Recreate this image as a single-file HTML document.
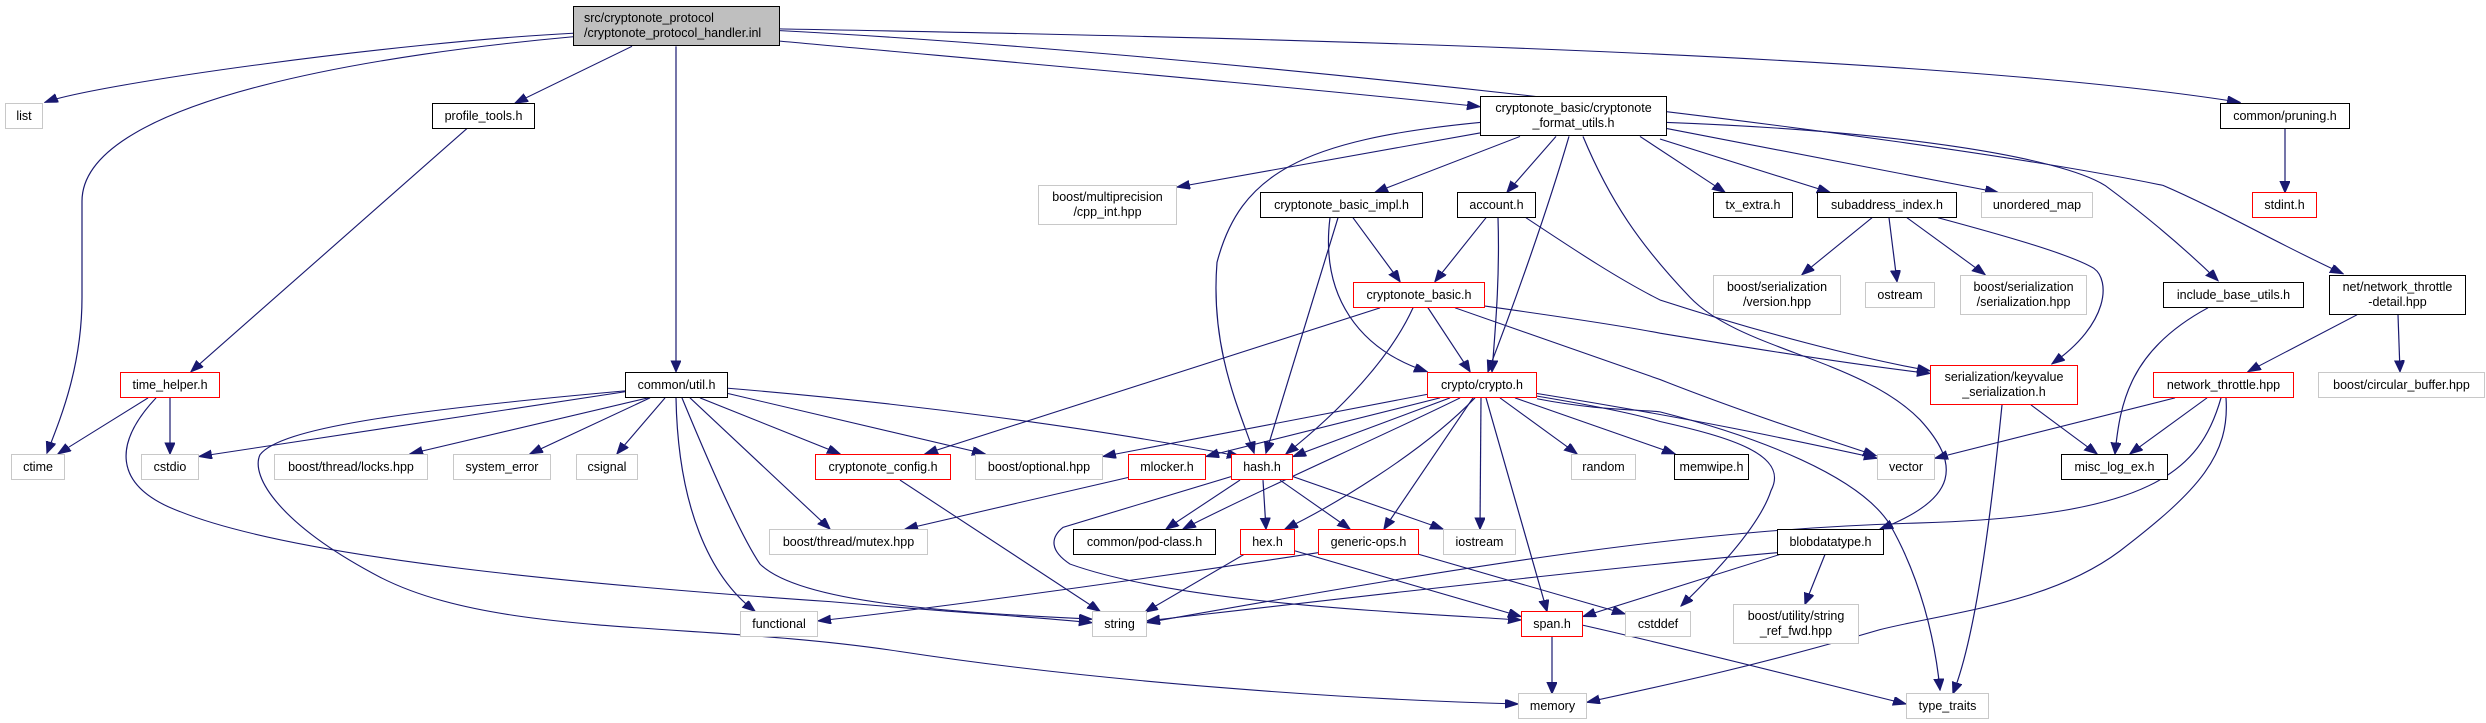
<!DOCTYPE html>
<html><head><meta charset="utf-8"><style>
body{margin:0;width:2486px;height:723px;background:#fff;position:relative;overflow:hidden;font-family:"Liberation Sans",sans-serif}
.n{position:absolute;box-sizing:border-box;background:#fff;display:flex;align-items:center;justify-content:center;text-align:center;font-size:12.5px;line-height:15px;color:#000;white-space:nowrap}
.g{border:1.5px solid #c8c8c8}
.b{border:1.5px solid #000}
.r{border:1.5px solid #ff0000}
svg{position:absolute;left:0;top:0}
path{fill:none;stroke:#191970;stroke-width:1.2}
</style></head><body>
<svg width="2486" height="723">
<defs><marker id="a" markerUnits="userSpaceOnUse" markerWidth="14" markerHeight="12" refX="13" refY="5" orient="auto"><path d="M0,0 L13,5 L0,10 Z" style="fill:#191970;stroke:#191970"/></marker></defs>
<g transform="scale(1,0.8745)" marker-end="url(#a)">
<path d="M573,38 C400,48 100,95 45,117"/>
<path d="M573,42 C400,60 82,110 82,230 L82,340 C82,420 60,480 47,518"/>
<path d="M632,53 L515,118"/>
<path d="M676,53 L676,425"/>
<path d="M780,47 C1000,70 1300,100 1480,122"/>
<path d="M780,33 C1100,40 1900,55 2240,117"/>
<path d="M780,35 C1200,60 1900,150 2163,212 C2220,240 2280,280 2343,313"/>
<path d="M1480,152 L1177,214"/>
<path d="M1480,140 C1300,160 1240,200 1217,300 C1210,400 1240,470 1254,518"/>
<path d="M1520,156 L1375,220"/>
<path d="M1556,156 L1507,220"/>
<path d="M1569,156 C1545,250 1510,360 1488,425"/>
<path d="M1583,156 C1610,230 1640,280 1690,340 C1740,400 1860,410 1920,480 C1960,530 1960,570 1880,605"/>
<path d="M1640,156 L1725,220"/>
<path d="M1660,159 L1830,220"/>
<path d="M1667,147 L1998,220"/>
<path d="M1667,140 C1900,150 2060,180 2105,212 C2150,250 2190,290 2218,321"/>
<path d="M1526,249 C1580,290 1620,320 1660,343 C1760,380 1860,410 1930,424"/>
<path d="M1485,350 C1560,362 1620,372 1660,381 C1760,400 1860,418 1930,427"/>
<path d="M1455,352 C1550,390 1620,418 1660,434 C1740,470 1820,500 1876,521"/>
<path d="M1938,249 C1990,265 2070,290 2094,307 C2110,320 2110,370 2052,416"/>
<path d="M1353,249 L1400,322"/>
<path d="M1338,249 L1266,518"/>
<path d="M1330,249 C1320,340 1360,400 1427,425"/>
<path d="M1486,249 L1435,322"/>
<path d="M1498,249 C1500,320 1495,380 1492,425"/>
<path d="M1380,352 L925,519"/>
<path d="M1413,352 C1390,410 1340,470 1286,519"/>
<path d="M1428,352 L1470,425"/>
<path d="M1427,451 L1103,522"/>
<path d="M1440,455 L1206,522"/>
<path d="M1450,455 L1293,522"/>
<path d="M1460,455 C1380,500 1260,560 1183,605"/>
<path d="M1475,455 C1420,520 1330,580 1285,605"/>
<path d="M1473,455 L1384,605"/>
<path d="M1481,455 L1480,605"/>
<path d="M1486,455 L1547,699"/>
<path d="M1500,455 L1577,519"/>
<path d="M1515,455 L1675,519"/>
<path d="M1537,450 C1700,480 1800,505 1877,524"/>
<path d="M1537,453 C1600,465 1640,475 1660,482 C1730,500 1790,520 1771,561 C1760,600 1720,650 1681,693"/>
<path d="M1537,456 C1600,470 1640,468 1660,471 C1760,500 1860,545 1890,600 C1920,660 1935,730 1940,789"/>
<path d="M1240,549 L1166,605"/>
<path d="M1263,549 L1266,605"/>
<path d="M1280,549 L1350,605"/>
<path d="M1293,545 L1443,605"/>
<path d="M1231,545 L1063,603 C1050,615 1050,630 1070,645 C1180,690 1400,700 1521,709"/>
<path d="M1128,546 L905,605"/>
<path d="M1244,634 L1145,700"/>
<path d="M1295,630 L1521,705"/>
<path d="M1318,632 C1100,670 900,700 818,710"/>
<path d="M1419,634 L1625,702"/>
<path d="M1552,728 L1552,793"/>
<path d="M1583,715 C1680,740 1800,775 1906,805"/>
<path d="M1777,632 C1600,650 1300,690 1147,710"/>
<path d="M1780,634 L1583,705"/>
<path d="M1825,634 L1805,691"/>
<path d="M2175,455 L1935,524"/>
<path d="M2207,455 L2130,519"/>
<path d="M2221,455 C2200,540 2150,590 1920,598 C1700,605 1500,640 1147,712"/>
<path d="M2226,455 C2230,520 2200,560 2120,630 C2050,690 1950,700 1880,720 C1760,760 1680,780 1587,803"/>
<path d="M2357,360 L2248,425"/>
<path d="M2398,360 L2400,425"/>
<path d="M2208,352 C2130,400 2120,460 2115,519"/>
<path d="M2031,463 L2097,519"/>
<path d="M2002,463 C1990,600 1975,730 1953,793"/>
<path d="M2285,147 L2285,220"/>
<path d="M1872,249 L1802,314"/>
<path d="M1889,249 L1897,322"/>
<path d="M1907,249 L1985,314"/>
<path d="M467,147 L191,425"/>
<path d="M148,455 L58,519"/>
<path d="M170,455 L170,519"/>
<path d="M156,455 C115,505 110,555 180,585 C300,640 600,670 830,688 C950,700 1030,705 1092,712"/>
<path d="M625,447 C400,470 280,490 260,520 C250,545 280,600 380,660 C500,730 700,710 900,745 C1100,780 1350,800 1518,805"/>
<path d="M625,448 L199,522"/>
<path d="M648,455 L410,519"/>
<path d="M650,455 L530,519"/>
<path d="M665,455 L617,519"/>
<path d="M676,455 C678,580 710,660 755,699"/>
<path d="M682,455 C720,560 745,620 760,645 C800,690 950,700 1092,708"/>
<path d="M690,455 L830,605"/>
<path d="M700,455 L840,519"/>
<path d="M728,450 L985,519"/>
<path d="M728,444 C900,460 1100,490 1240,522"/>
<path d="M900,549 L1100,699"/>
</g></svg>

<div class="n b" style="left:573px;top:6px;width:207px;height:40px;background:#bfbfbf;text-align:left;justify-content:flex-start;padding-left:10px">src/cryptonote_protocol<br>/cryptonote_protocol_handler.inl</div>
<div class="n g" style="left:5px;top:103px;width:38px;height:26px">list</div>
<div class="n b" style="left:432px;top:103px;width:103px;height:26px">profile_tools.h</div>
<div class="n r" style="left:120px;top:372px;width:100px;height:26px">time_helper.h</div>
<div class="n b" style="left:625px;top:372px;width:103px;height:26px">common/util.h</div>
<div class="n g" style="left:11px;top:454px;width:54px;height:26px">ctime</div>
<div class="n g" style="left:141px;top:454px;width:58px;height:26px">cstdio</div>
<div class="n g" style="left:274px;top:454px;width:154px;height:26px">boost/thread/locks.hpp</div>
<div class="n g" style="left:453px;top:454px;width:98px;height:26px">system_error</div>
<div class="n g" style="left:576px;top:454px;width:62px;height:26px">csignal</div>
<div class="n r" style="left:815px;top:454px;width:136px;height:26px">cryptonote_config.h</div>
<div class="n g" style="left:769px;top:529px;width:159px;height:26px">boost/thread/mutex.hpp</div>
<div class="n g" style="left:740px;top:611px;width:78px;height:26px">functional</div>
<div class="n b" style="left:1480px;top:96px;width:187px;height:40px">cryptonote_basic/cryptonote<br>_format_utils.h</div>
<div class="n g" style="left:1038px;top:185px;width:139px;height:40px">boost/multiprecision<br>/cpp_int.hpp</div>
<div class="n b" style="left:1260px;top:192px;width:163px;height:26px">cryptonote_basic_impl.h</div>
<div class="n b" style="left:1457px;top:192px;width:79px;height:26px">account.h</div>
<div class="n r" style="left:1353px;top:282px;width:132px;height:26px">cryptonote_basic.h</div>
<div class="n r" style="left:1427px;top:372px;width:110px;height:26px">crypto/crypto.h</div>
<div class="n g" style="left:975px;top:454px;width:128px;height:26px">boost/optional.hpp</div>
<div class="n r" style="left:1128px;top:454px;width:78px;height:26px">mlocker.h</div>
<div class="n r" style="left:1231px;top:454px;width:62px;height:26px">hash.h</div>
<div class="n g" style="left:1571px;top:454px;width:65px;height:26px">random</div>
<div class="n b" style="left:1674px;top:454px;width:75px;height:26px">memwipe.h</div>
<div class="n b" style="left:1073px;top:529px;width:143px;height:26px">common/pod-class.h</div>
<div class="n r" style="left:1240px;top:529px;width:55px;height:26px">hex.h</div>
<div class="n r" style="left:1318px;top:529px;width:101px;height:26px">generic-ops.h</div>
<div class="n g" style="left:1443px;top:529px;width:73px;height:26px">iostream</div>
<div class="n g" style="left:1092px;top:611px;width:55px;height:26px">string</div>
<div class="n r" style="left:1521px;top:611px;width:62px;height:26px">span.h</div>
<div class="n g" style="left:1625px;top:611px;width:66px;height:26px">cstddef</div>
<div class="n g" style="left:1518px;top:693px;width:69px;height:26px">memory</div>
<div class="n b" style="left:2220px;top:103px;width:130px;height:26px">common/pruning.h</div>
<div class="n b" style="left:1713px;top:192px;width:80px;height:26px">tx_extra.h</div>
<div class="n b" style="left:1817px;top:192px;width:140px;height:26px">subaddress_index.h</div>
<div class="n g" style="left:1981px;top:192px;width:112px;height:26px">unordered_map</div>
<div class="n r" style="left:2252px;top:192px;width:65px;height:26px">stdint.h</div>
<div class="n g" style="left:1713px;top:275px;width:128px;height:40px">boost/serialization<br>/version.hpp</div>
<div class="n g" style="left:1865px;top:282px;width:70px;height:26px">ostream</div>
<div class="n g" style="left:1960px;top:275px;width:127px;height:40px">boost/serialization<br>/serialization.hpp</div>
<div class="n b" style="left:2163px;top:282px;width:141px;height:26px">include_base_utils.h</div>
<div class="n b" style="left:2329px;top:275px;width:137px;height:40px">net/network_throttle<br>-detail.hpp</div>
<div class="n r" style="left:1930px;top:365px;width:148px;height:40px">serialization/keyvalue<br>_serialization.h</div>
<div class="n r" style="left:2153px;top:372px;width:141px;height:26px">network_throttle.hpp</div>
<div class="n g" style="left:2318px;top:372px;width:167px;height:26px">boost/circular_buffer.hpp</div>
<div class="n g" style="left:1877px;top:454px;width:58px;height:26px">vector</div>
<div class="n b" style="left:2061px;top:454px;width:107px;height:26px">misc_log_ex.h</div>
<div class="n b" style="left:1777px;top:529px;width:107px;height:26px">blobdatatype.h</div>
<div class="n g" style="left:1733px;top:604px;width:126px;height:40px">boost/utility/string<br>_ref_fwd.hpp</div>
<div class="n g" style="left:1906px;top:693px;width:83px;height:26px">type_traits</div>
</body></html>
